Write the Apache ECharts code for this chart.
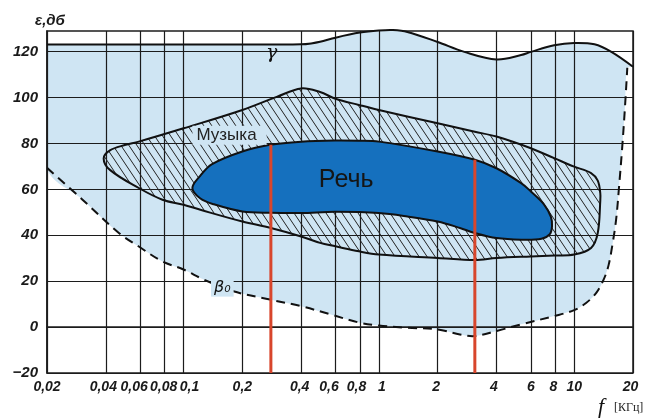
<!DOCTYPE html>
<html><head><meta charset="utf-8">
<script src="https://cdn.jsdelivr.net/npm/echarts@6.0.0/dist/echarts.min.js"></script>
<style>html,body{margin:0;padding:0;background:#fff}#c{width:648px;height:418px}</style>
</head><body><div id="c"></div>
<script>
// ---- data (frequency in kHz, level in dB) ----
const xTicks = [0.02,0.04,0.06,0.08,0.1,0.2,0.4,0.6,0.8,1,2,4,6,8,10,20];
const yTicks = [-20,0,20,40,60,80,100,120];

const gammaCurve = [[0.02,123.1],[0.1,123.1],[0.3,123.1],[0.4,123.2],[0.45,123.6],[0.5,124.3],[0.6,126.1],[0.8,128.3],[1.0,129.2],[1.18,129.4],[1.4,128.6],[2,124.2],[2.74,119.9],[4,116.6],[5.35,118.5],[6,119.9],[7.9,122.8],[10,123.8],[12.7,123.2],[15.5,119.9],[20,113.4]];

const beta0Curve = [[0.02,69.4],[0.0304,55.5],[0.0465,41.1],[0.059,35.1],[0.078,28.6],[0.1,25.1],[0.127,20.7],[0.18,15.6],[0.277,12.0],[0.4,9.1],[0.567,5.5],[0.79,2.0],[1.0,0.7],[1.4,-0.3],[2.0,-1.0],[2.6,-3.2],[3.1,-3.9],[4.0,-1.7],[5.35,1.2],[7.9,4.8],[10,7.4],[11.5,10.5],[13.0,15],[14.2,21],[15.0,27],[15.7,36],[16.4,47],[17.0,62],[17.6,78],[18.2,96],[18.7,113]];

const musicTop = [[0.039,73.5],[0.042,77],[0.05,79.3],[0.059,80.8],[0.1,86.6],[0.2,94.6],[0.3,100.3],[0.4,104.0],[0.5,102.4],[0.6,99.5],[0.79,96.8],[1,94.6],[2,88.8],[3.1,85.1],[4,83],[6,77.9],[7.9,73.6],[10,69.9],[12.2,67.1],[13.2,63.8],[13.6,58.4]];
const musicBottom = [[13.6,55],[13.2,41.0],[12.2,34.5],[10,31.6],[7.9,31.2],[6,30.8],[4,30.1],[3.1,29.2],[2,30.1],[1,31.6],[0.79,33.0],[0.6,35.2],[0.5,36.7],[0.4,39.5],[0.28,43.2],[0.2,46],[0.122,51.1],[0.1,53.3],[0.078,55.5],[0.059,60.6],[0.042,68.5]];

const speechTop = [[0.111,60.6],[0.122,66],[0.14,71],[0.2,76.5],[0.277,79.4],[0.4,80.8],[0.6,81.3],[0.79,81.2],[1,80.8],[2,76.5],[3.1,72.9],[4,69.2],[5.35,62.7],[6,59.1],[7.0,53.5],[7.6,48]];
const speechBottom = [[7.7,44],[7.5,40.5],[6.8,38.5],[5.35,38.1],[4,38.8],[3.1,41.0],[2.6,43.2],[2,46.0],[1.4,48.2],[1,49.7],[0.6,50.2],[0.4,49.7],[0.28,49.8],[0.2,50.4],[0.143,53.5],[0.122,56]];

const speechBandLow = [[0.28,-20],[0.28,79.4]];
const speechBandHigh = [[3.1,-20],[3.1,72.9]];

// ---- layout / styles ----
const LIGHT = '#cfe5f3', DARK = '#1570be', RED = '#d8462c', INK = '#1c1c1c';
const FONT = '"Liberation Sans", Arial, sans-serif';
const TICKFONT = {fontFamily: FONT, fontStyle:'italic', fontWeight:'bold', fontSize:14, color:'#1a1a1a'};
// horizontal nudges (px) of crowded tick labels, as in the original drawing
const labelNudge = {'0.04':-2.5,'0.06':-6,'0.08':-1,'0.1':6,'0.4':-1.5,'0.6':-6.5,'0.8':-3.5,'1':3,'2':-1.5,'4':-2.5,'8':-2,'20':-2.5};

const rich = {};
Object.keys(labelNudge).forEach((k, i) => {
  const s = labelNudge[k];
  rich['n' + i] = Object.assign({ padding: s > 0 ? [0, 0, 0, 2 * s] : [0, -2 * s, 0, 0] }, TICKFONT);
});
function xLabel(v) {
  const key = String(+(+v).toPrecision(3));
  const txt = key.replace('.', ',');
  const idx = Object.keys(labelNudge).indexOf(key);
  return idx >= 0 ? '{n' + idx + '|' + txt + '}' : txt;
}

function hatchCanvas() {
  const w = 8, h = 12, c = document.createElement('canvas');
  c.width = w; c.height = h;
  const g = c.getContext('2d');
  g.strokeStyle = '#222'; g.lineWidth = 1;
  for (const dx of [-w, 0, w]) { g.beginPath(); g.moveTo(dx, 0); g.lineTo(dx + w, h); g.stroke(); }
  return c;
}

function shapeSeries(pts, kind, style, z, clip, smooth) {
  return {
    type: 'custom', silent: true, z: z, clip: !!clip, animation: false,
    data: [[1, 50]],
    renderItem: function (params, api) {
      return {
        type: kind,
        shape: { points: pts.map(p => api.coord(p)), smooth: smooth == null ? 0.35 : smooth },
        style: style
      };
    }
  };
}

// light region: between γ (top) and β0 (bottom); a tiny corner step keeps the smoothing flat at the left edge
const lightRegion = [gammaCurve[0], [gammaCurve[0][0] * 1.01, gammaCurve[0][1]]]
  .concat(gammaCurve.slice(1), beta0Curve.slice().reverse());
const musicRegion = musicTop.concat(musicBottom);
const speechRegion = speechTop.concat(speechBottom);

const labelDefs = [
  {text:'Музыка', at:[0.172, 83.6], style:{fontSize:17, fontFamily:FONT, fill:'#222', backgroundColor:LIGHT, padding:[1,10,1,4]}},
  {text:'Речь', at:[0.68, 64.2], style:{fontSize:25, fontFamily:FONT, fill:'#151515'}},
  {text:'γ', at:[0.283, 119.3], style:{fontSize:19, fontStyle:'italic', fontFamily:'"DejaVu Serif", serif', fill:'#111'}},
  {text:'β₀', at:[0.158, 17.2], style:{fontSize:16, fontStyle:'italic', fontFamily:'"DejaVu Sans", sans-serif', fill:'#111', backgroundColor:LIGHT, padding:[1,3,1,3]}}
];

const chart = echarts.init(document.getElementById('c'));
chart.setOption({
  animation: false,
  grid: { left: 47, right: 15, top: 31, bottom: 45, show: true, borderColor: INK, borderWidth: 1.5, backgroundColor: 'transparent', outerBoundsMode: 'none' },
  xAxis: {
    type: 'log', logBase: 10, min: 0.02, max: 20, z: 2,
    axisLine: { show: true, lineStyle: { color: INK, width: 1.5 } },
    axisTick: { show: false, customValues: xTicks },
    axisLabel: Object.assign({ customValues: xTicks, margin: 7, formatter: xLabel, rich: rich }, TICKFONT),
    splitLine: { show: true, lineStyle: { color: INK, width: 1.2 } }
  },
  yAxis: {
    type: 'value', min: -20, max: 129, z: 2,
    axisLine: { show: true, lineStyle: { color: INK, width: 1.5 } },
    axisTick: { show: false, customValues: yTicks },
    axisLabel: Object.assign({ customValues: yTicks, margin: 9, formatter: v => v < 0 ? '−' + (-v) : String(v) }, TICKFONT, { fontSize: 15 }),
    splitLine: { show: true, lineStyle: { color: INK, width: 1.2 } }
  },
  graphic: [
    { type: 'text', left: 35, top: 13, style: { text: 'ε,дб', font: 'italic bold 15px "Liberation Sans", Arial, sans-serif', fill: '#1a1a1a' } },
    { type: 'text', left: 598, top: 396, style: { text: 'f', font: 'italic 22px "Liberation Serif", serif', fill: '#111' } },
    { type: 'text', left: 614, top: 402, style: { text: '[КГц]', font: '12px "Liberation Serif", serif', fill: '#222' } }
  ],
  series: [
    shapeSeries(lightRegion, 'polygon', { fill: LIGHT, stroke: 'none' }, 1, true),
    shapeSeries(gammaCurve, 'polyline', { fill: 'none', stroke: '#111', lineWidth: 2 }, 3, false),
    shapeSeries(beta0Curve, 'polyline', { fill: 'none', stroke: '#111', lineWidth: 2, lineDash: [9, 6] }, 3, true),
    shapeSeries(musicRegion, 'polygon', { fill: { image: hatchCanvas(), repeat: 'repeat' }, stroke: '#111', lineWidth: 2 }, 4, false),
    shapeSeries(speechRegion, 'polygon', { fill: DARK, stroke: '#111', lineWidth: 2 }, 5, false),
    { type: 'line', data: speechBandLow, z: 6, showSymbol: false, silent: true, lineStyle: { color: RED, width: 3 } },
    { type: 'line', data: speechBandHigh, z: 6, showSymbol: false, silent: true, lineStyle: { color: RED, width: 3 } },
    {
      type: 'custom', silent: true, z: 7, animation: false, data: [[1, 50]],
      renderItem: function (params, api) {
        return { type: 'group', children: labelDefs.map(d => {
          const p = api.coord(d.at);
          return { type: 'text', x: p[0], y: p[1], style: Object.assign({ text: d.text, align: 'center', verticalAlign: 'middle' }, d.style) };
        }) };
      }
    }
  ]
});
</script>
</body></html>
